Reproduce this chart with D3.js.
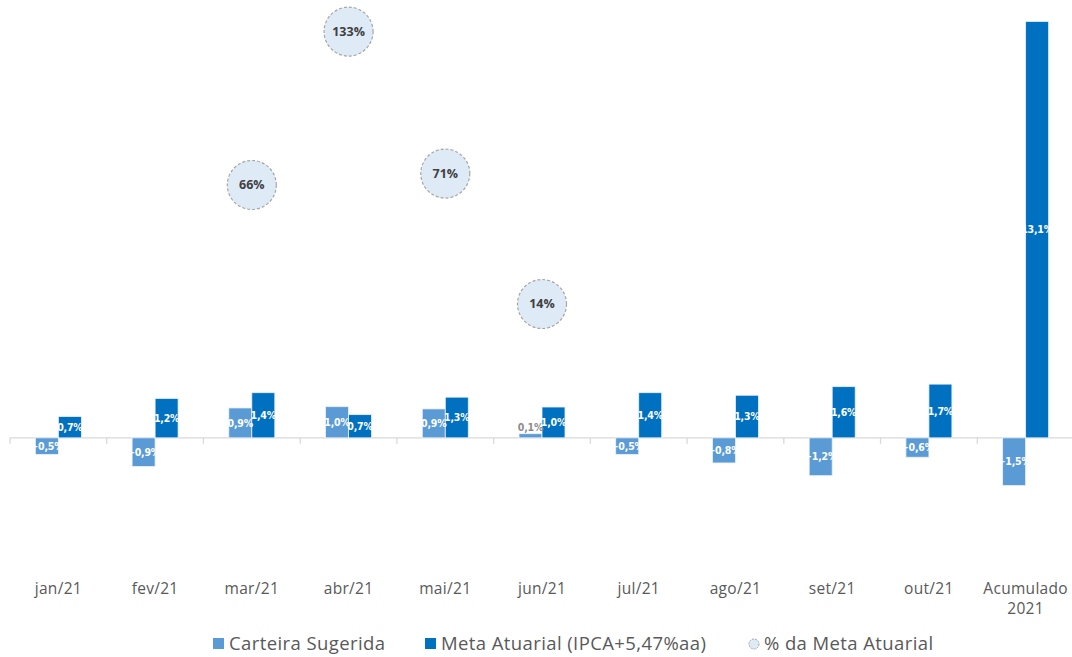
<!DOCTYPE html>
<html>
<head>
<meta charset="utf-8">
<script src="https://cdn.jsdelivr.net/npm/d3@7"></script>
<style>
  body { margin: 0; background: #fff; }
  svg { display: block; }
</style>
</head>
<body>
<script>
const WIDTH = 1072;
const HEIGHT = 657;
const LIGHT = '#5B9BD5';
const DARK = '#0070C0';
const AXIS = '#D9D9D9';
const TEXT = '#595959';
const FONT = '"Liberation Sans Narrow", "DejaVu Sans Condensed", "Open Sans", sans-serif';
const FONT_LABEL = '"Open Sans", "Noto Sans", sans-serif';

// data
const categories = ['jan/21', 'fev/21', 'mar/21', 'abr/21', 'mai/21', 'jun/21',
  'jul/21', 'ago/21', 'set/21', 'out/21', 'Acumulado 2021'];
const carteira = [-0.52, -0.9, 0.94, 0.98, 0.91, 0.13, -0.52, -0.79, -1.19, -0.61, -1.5];
const meta = [0.67, 1.24, 1.42, 0.73, 1.28, 0.97, 1.42, 1.34, 1.61, 1.69, 13.1];
const pctMeta = [null, null, 66, 133, 71, 14, null, null, null, null, null];
const seriesNames = ['Carteira Sugerida', 'Meta Atuarial (IPCA+5,47%aa)', '% da Meta Atuarial'];

const svg = d3.select('body').append('svg')
  .attr('width', WIDTH)
  .attr('height', HEIGHT)
  .attr('viewBox', `0 0 ${WIDTH} ${HEIGHT}`);

const x = d3.scaleBand().domain(categories).range([10, 1074]).paddingInner(0).paddingOuter(0);
const barW = 23;
const y = d3.scaleLinear().domain([-4, 13.5]).range([565, 8.7]);
const y2 = d3.scaleLinear().domain([-100, 143]).range([565, 8.7]);

// d3 gives a unicode minus, which stays visible on the bar edge
const fmt = v => d3.format('.1f')(v).replace('.', ',') + '%';

// category axis at zero
const axisG = svg.append('g').attr('transform', `translate(0,${y(0)})`);
axisG.append('line')
  .attr('x1', 10).attr('x2', 1074)
  .attr('stroke', AXIS).attr('stroke-width', 1.3);
axisG.selectAll('line.tick')
  .data(d3.range(categories.length + 1))
  .join('line')
  .attr('class', 'tick')
  .attr('x1', i => 10 + i * x.step()).attr('x2', i => 10 + i * x.step())
  .attr('y1', 0).attr('y2', 6)
  .attr('stroke', AXIS).attr('stroke-width', 1.3);

// category labels
const catG = svg.append('g');
categories.forEach((c) => {
  const cx = x(c) + x.bandwidth() / 2;
  const t = catG.append('text')
    .attr('x', cx)
    .attr('y', 594)
    .attr('text-anchor', 'middle')
    .attr('fill', TEXT)
    .attr('font-family', FONT_LABEL)
    .attr('font-size', 15.5)
    .attr('letter-spacing', 0.3);
  const parts = c === 'Acumulado 2021' ? ['Acumulado', '2021'] : [c];
  parts.forEach((p, k) => {
    t.append('tspan').attr('x', cx).attr('dy', k === 0 ? 0 : 20).text(p);
  });
});

// bars
function drawBars(values, offset, color) {
  svg.append('g').selectAll('rect')
    .data(values)
    .join('rect')
    .attr('x', (d, i) => x(categories[i]) + x.bandwidth() / 2 + offset)
    .attr('y', d => Math.min(y(d), y(0)))
    .attr('width', barW)
    .attr('height', d => Math.abs(y(d) - y(0)))
    .attr('fill', color)
    .attr('stroke', '#EAF2FA')
    .attr('stroke-width', 0.8);
}
drawBars(carteira, -barW, LIGHT);
drawBars(meta, 0, DARK);

function drawLabels(values, offset) {
  const g = svg.append('g');
  values.forEach((d, i) => {
    const cx = x(categories[i]) + x.bandwidth() / 2 + offset + barW / 2;
    const h = Math.abs(y(d) - y(0));
    const small = h < 10;
    g.append('text')
      .attr('x', cx)
      .attr('y', small ? y(d) - 6 : (y(d) + y(0)) / 2)
      .attr('dy', '0.35em')
      .attr('text-anchor', 'middle')
      .attr('fill', small ? '#8C8C8C' : '#FFFFFF')
      .attr('font-family', FONT)
      .attr('font-weight', 700)
      .attr('font-size', 10.5)
      .attr('letter-spacing', -0.2)
      .text(fmt(d));
  });
}
drawLabels(carteira, -barW);
drawLabels(meta, 0);

// bubbles: % da Meta Atuarial
const bub = svg.append('g');
pctMeta.forEach((v, i) => {
  if (v == null) return;
  const cx = x(categories[i]) + x.bandwidth() / 2;
  bub.append('circle')
    .attr('cx', cx).attr('cy', y2(v)).attr('r', 24.5)
    .attr('fill', '#DEEBF7')
    .attr('stroke', '#A6A6A6')
    .attr('stroke-width', 1.2)
    .attr('stroke-dasharray', '3 2');
  bub.append('text')
    .attr('x', cx).attr('y', y2(v)).attr('dy', '0.35em')
    .attr('text-anchor', 'middle')
    .attr('fill', '#404040')
    .attr('font-family', FONT_LABEL)
    .attr('font-weight', 700)
    .attr('font-size', 12.5)
    .text(v + '%');
});

// legend
const leg = svg.append('g');
const legItems = [
  { x: 213, type: 'rect', color: LIGHT },
  { x: 425, type: 'rect', color: DARK },
  { x: 748, type: 'circle', color: '#DEEBF7' }
];
legItems.forEach((it, i) => {
  if (it.type === 'rect') {
    leg.append('rect').attr('x', it.x).attr('y', 638).attr('width', 11).attr('height', 11).attr('fill', it.color);
  } else {
    leg.append('circle').attr('cx', it.x + 6).attr('cy', 644).attr('r', 5)
      .attr('fill', it.color).attr('stroke', '#A6A6A6').attr('stroke-width', 1)
      .attr('stroke-dasharray', '2 1');
  }
  leg.append('text')
    .attr('x', it.x + 16).attr('y', 644).attr('dy', '0.35em')
    .attr('fill', TEXT)
    .attr('font-family', FONT_LABEL)
    .attr('font-size', 18.5)
    .attr('letter-spacing', 0.4)
    .text(seriesNames[i]);
});
</script>
</body>
</html>
